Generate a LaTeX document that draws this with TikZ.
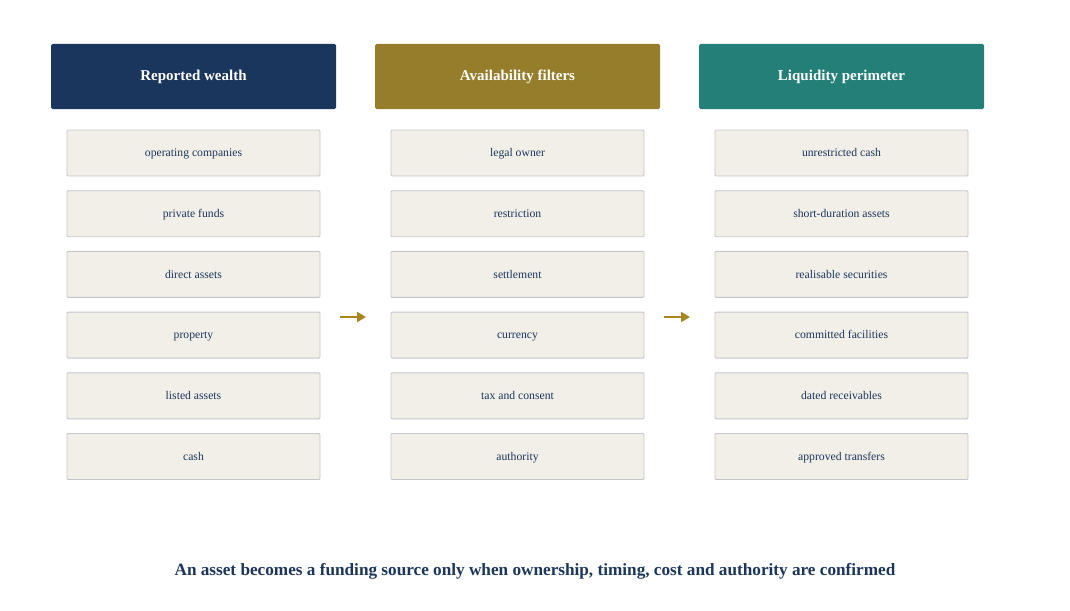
\documentclass[tikz,border=0pt]{standalone}
\usepackage{fontspec}
\setmainfont{Liberation Serif}
\usetikzlibrary{arrows.meta}

\definecolor{navy}{HTML}{1B365D}
\definecolor{gold}{HTML}{967D2B}
\definecolor{teal}{HTML}{247F78}
\definecolor{cream}{HTML}{F2EFE8}
\definecolor{edge}{HTML}{C3C6CB}
\definecolor{arrowgold}{HTML}{A8851F}

\tikzset{
  header/.style={rounded corners=1.5pt, minimum width=285pt, minimum height=65pt,
    text=white, font=\fontsize{15}{18}\selectfont\bfseries, inner sep=0pt,
    text height=10pt, text depth=3pt},
  item/.style={draw=edge, line width=0.9pt, fill=cream, rounded corners=1pt,
    minimum width=253pt, minimum height=46pt, inner sep=0pt,
    text=navy, font=\fontsize{11.7}{14}\selectfont,
    text height=9pt, text depth=1.6pt},
  flow/.style={arrowgold, line width=2pt, -{Triangle[length=9pt,width=10pt]}}
}

\begin{document}
\begin{tikzpicture}[x=1pt, y=-1pt]
            \useasboundingbox (0,0) rectangle (1070,610);

            \node[header, fill=navy] (wealth) at (193.5,76.5) {Reported wealth};
            \node[header, fill=gold] (filters) at (517.5,76.5) {Availability filters};
            \node[header, fill=teal] (perimeter) at (841.5,76.5) {Liquidity perimeter};

            % reported wealth
            \foreach \name [count=\i] in {operating companies, private funds, direct assets, property, listed assets, cash}
                \node[item] (w\i) at (193.5, 92.3+60.7*\i) {\name};

            % availability filters
            \foreach \name [count=\i] in {legal owner, restriction, settlement, currency, tax and consent, authority}
                \node[item] (f\i) at (517.5, 92.3+60.7*\i) {\name};

            % liquidity perimeter
            \foreach \name [count=\i] in {unrestricted cash, short-duration assets, realisable securities, committed facilities, dated receivables, approved transfers}
                \node[item] (p\i) at (841.5, 92.3+60.7*\i) {\name};

            \coordinate (a1) at (340,317);
            \coordinate (b1) at (366,317);
            \coordinate (a2) at (664,317);
            \coordinate (b2) at (690,317);
            \draw[flow] (a1) -- (b1);
            \draw[flow] (a2) -- (b2);

            \node[text=navy, font=\fontsize{17.2}{20}\selectfont\bfseries] (caption) at (535,571)
                {An asset becomes a funding source only when ownership, timing, cost and authority are confirmed};
        \end{tikzpicture}
\end{document}
